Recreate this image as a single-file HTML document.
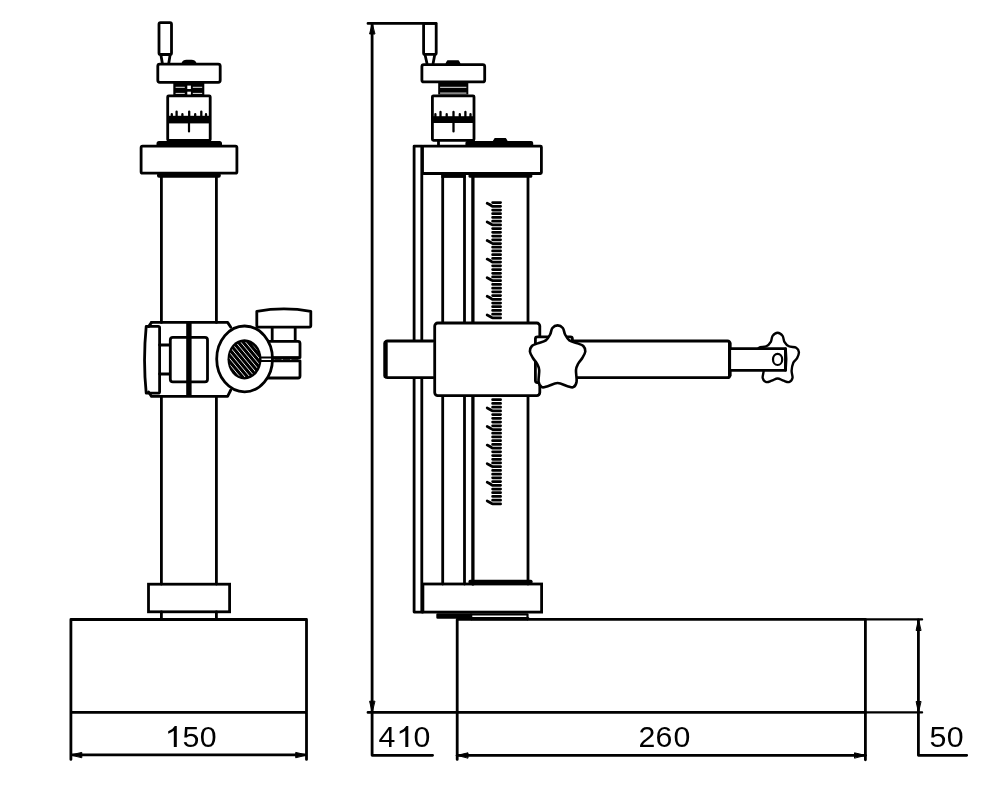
<!DOCTYPE html>
<html><head><meta charset="utf-8">
<style>
html,body{margin:0;padding:0;background:#fff;width:1002px;height:794px;overflow:hidden}
svg{display:block;will-change:transform}
text{font-family:"Liberation Sans",sans-serif;font-size:30.3px;fill:#000}
</style></head><body>
<svg width="1002" height="794" viewBox="0 0 1002 794">
<g fill="none" stroke="#000" stroke-width="2.8" stroke-linejoin="round" stroke-linecap="round">

<!-- ============ LEFT VIEW ============ -->
<!-- handle -->
<rect x="159" y="22.7" width="12.5" height="31.8" rx="1.5"/>
<path d="M161 55.5 L162.3 63 M170 55.5 L168.8 63"/>
<!-- crank arm -->
<path d="M182.5 63.3 Q183.5 60.8 186.5 60.8 H191.5 Q194.5 60.8 195.5 63.3 Z" stroke-width="2" fill="#000"/>
<rect x="157.8" y="64.1" width="62.4" height="18.2" rx="2"/>
<!-- knurled neck -->
<rect x="173.3" y="83" width="31" height="12" fill="#000" stroke="none"/>
<path d="M176 87.3 H184.4 M193.2 87.3 H201.8 M176 93.4 H184.4 M193.2 93.4 H201.8" stroke="#fff" stroke-width="0.9"/>
<rect x="187.3" y="85.6" width="3.6" height="3.4" fill="#fff" stroke="none"/>
<rect x="187.3" y="91.7" width="3.6" height="3.4" fill="#fff" stroke="none"/>
<!-- drum -->
<rect x="167.7" y="95.8" width="42.5" height="44.7" rx="1"/>
<rect x="167" y="115.8" width="44" height="7.6" fill="#000" stroke="none"/>
<path d="M171.8 117 V114.2 M176.6 117 V111.6 M182.4 117 V114.2 M189.2 117 V111.6 M195.2 117 V114.2 M201.3 117 V111.6 M206 117 V114.2" stroke-width="2.3"/>
<path d="M189 123 V131.4" stroke-width="2.2"/>
<!-- plate on top of collar -->
<rect x="156.5" y="141" width="65.5" height="5.8" rx="2.5" fill="#000" stroke="none"/>
<!-- collar -->
<rect x="141.1" y="146.2" width="95.8" height="27" rx="1.5"/>
<rect x="157" y="173" width="63.8" height="4.8" rx="2" fill="#000" stroke="none"/>
<!-- column -->
<path d="M161.4 177 V322.4 M216.4 177 V322.4 M161.4 396.4 V584 M216.4 396.4 V584 M161.4 612 V619 M216.4 612 V619"/>

<!-- clamp body -->
<path d="M151.5 322.4 H227.6 L230.8 327.2 M230.8 390 L227.6 396.4 H151.5 L148.6 392"/>
<path d="M148.6 326.6 L151.5 322.4"/>
<!-- left cap -->
<path d="M146.2 326.3 H158.2 Q159.6 326.3 159.6 327.7 V391.8 Q159.6 393.2 158.2 393.2 H146.2 Q142.9 360 146.2 326.3 Z"/>
<!-- stub -->
<path d="M159.6 345 H169.6 M159.6 374 H169.6"/>
<!-- inner rect -->
<rect x="170.3" y="337.4" width="37.2" height="44.4" rx="2.6"/>
<!-- split -->
<rect x="186.2" y="322.4" width="5.4" height="74" fill="#000" stroke="none"/>
<!-- knob cap -->
<path d="M256.8 311.3 Q284 306.5 310.8 311.3 V325.6 Q310.8 327.2 309.2 327.2 H258.4 Q256.8 327.2 256.8 325.6 Z"/>
<!-- neck -->
<path d="M272.2 327.6 V340.6 M295.2 327.6 V340.6"/>
<!-- clamp blocks -->
<path d="M262 341.4 H298 Q300 341.4 300 343.4 V357.6 H262 M262 360.8 H300 V376 Q300 378 298 378 H262"/>
<path d="M258 359.2 H300" stroke-width="1.2" stroke-dasharray="6 2.5"/>
<!-- ring -->
<ellipse cx="244.6" cy="358.9" rx="27.9" ry="32.9" fill="#fff"/>
<!-- hatched disc -->
<ellipse cx="244.5" cy="359.3" rx="17" ry="20.1" fill="#000" stroke="none"/>
<clipPath id="disc"><ellipse cx="244.3" cy="359.5" rx="14.8" ry="17.6"/></clipPath>
<g clip-path="url(#disc)" stroke="#fff" stroke-width="0.9" stroke-linecap="butt">
<path d="M243.61 321.86 L282.02 367.95 M240.69 324.29 L279.10 370.38 M237.77 326.72 L276.18 372.82 M234.85 329.16 L273.26 375.25 M231.93 331.59 L270.34 377.68 M229.01 334.02 L267.42 380.11 M226.09 336.45 L264.51 382.55 M223.18 338.89 L261.59 384.98 M220.26 341.32 L258.67 387.41 M217.34 343.75 L255.75 389.84 M214.42 346.18 L252.83 392.28 M211.50 348.62 L249.91 394.71 M208.58 351.05 L246.99 397.14"/></g>
<!-- slit lines -->
<path d="M261 357.4 H300 M261 361 H300" stroke-width="2"/>

<!-- bottom collar -->
<rect x="148.5" y="584.2" width="81.1" height="27.6" stroke-linejoin="miter"/>
<!-- base -->
<path d="M70.9 619.5 H306.5 V759.4 M70.9 759.4 V619.5 M70.9 712.4 H306.5"/>
<!-- dim 150 -->
<path d="M72 754.9 H305.5"/>
<path d="M71 754.9 L81.8 752.4 L81.8 757.4 Z M306.5 754.9 L295.7 752.4 L295.7 757.4 Z" fill="#000" stroke-width="1"/>

<!-- ============ RIGHT VIEW ============ -->
<!-- 410 dimension -->
<path d="M368 23.4 H436.2 M372.1 23.4 V755.3 H432.6 M368 712.4 H865.4"/>
<path d="M372.1 23.6 L369.6 34 L374.6 34 Z M372.1 712 L369.6 701.2 L374.6 701.2 Z" fill="#000" stroke-width="1"/>
<!-- handle -->
<rect x="423.6" y="23.4" width="12.6" height="31" rx="1.5"/>
<path d="M425.2 55.5 L427 63.5 M434.6 55.5 L433.1 63.5"/>
<!-- crank arm -->
<path d="M446.2 63.6 L447.6 61 H458.4 L459.8 63.6 Z" fill="#000" stroke-width="1.4"/>
<rect x="421.9" y="64.6" width="62.8" height="17.3" rx="2"/>
<!-- neck -->
<rect x="438.2" y="82" width="30.1" height="12.6" fill="#000" stroke="none"/>
<path d="M440.5 87.3 H466 M440.5 93.1 H466" stroke="#fff" stroke-width="0.9"/>
<!-- drum -->
<rect x="432.4" y="95.8" width="41.6" height="44.5" rx="1"/>
<rect x="431.5" y="116.2" width="43.5" height="6.8" fill="#000" stroke="none"/>
<path d="M435.4 117 V114.2 M440.5 117 V112 M446.7 117 V114.2 M453.5 117 V112 M459.8 117 V114.2 M465.4 117 V112 M470.5 117 V114.2" stroke-width="2.3"/>
<path d="M453.5 123 V131.4" stroke-width="2.3"/>
<path d="M438.5 141.5 V145.5"/>
<!-- dark bar top of plate -->
<rect x="465.4" y="140.9" width="67.8" height="5.6" rx="2" fill="#000" stroke="none"/>
<path d="M493.5 141 L495 138.6 H505.5 L507 141 Z" fill="#000" stroke-width="1.2"/>
<!-- back plate -->
<path d="M422.5 146.1 H414.1 V612.1 H422.9 M421.8 146.1 V612.1"/>
<!-- top plate -->
<rect x="422.5" y="146.1" width="118.9" height="27.4" rx="1"/>
<rect x="468.5" y="173.5" width="63.8" height="4.3" rx="1.5" fill="#000" stroke="none"/>
<rect x="441.3" y="173.5" width="24.4" height="4.4" fill="#000" stroke="none"/>
<!-- columns -->
<path d="M442.7 174 V322.5 M464.5 174 V322.5 M528 174 V322.5 M442.7 396.5 V584 M464.5 396.5 V584 M528 396.5 V584"/>
<path d="M472.9 174 V322.5 M472.9 396.5 V584" stroke-width="3.3"/>
<!-- upper scale -->
<path d="M492.6 202.58 H500.6 M492.6 206.30 H500.6 M487.2 203.30 Q490.2 204.70 492.4 206.30 M492.6 210.02 H500.6 M492.6 213.74 H500.6 M492.6 217.46 H500.6 M492.6 221.18 H500.6 M492.6 224.90 H500.6 M487.2 221.90 Q490.2 223.30 492.4 224.90 M492.6 228.62 H500.6 M492.6 232.34 H500.6 M492.6 236.06 H500.6 M492.6 239.78 H500.6 M492.6 243.50 H500.6 M487.2 240.50 Q490.2 241.90 492.4 243.50 M492.6 247.22 H500.6 M492.6 250.94 H500.6 M492.6 254.66 H500.6 M492.6 258.38 H500.6 M492.6 262.10 H500.6 M487.2 259.10 Q490.2 260.50 492.4 262.10 M492.6 265.82 H500.6 M492.6 269.54 H500.6 M492.6 273.26 H500.6 M492.6 276.98 H500.6 M492.6 280.70 H500.6 M487.2 277.70 Q490.2 279.10 492.4 280.70 M492.6 284.42 H500.6 M492.6 288.14 H500.6 M492.6 291.86 H500.6 M492.6 295.58 H500.6 M492.6 299.30 H500.6 M487.2 296.30 Q490.2 297.70 492.4 299.30 M492.6 303.02 H500.6 M492.6 306.74 H500.6 M492.6 310.46 H500.6 M492.6 314.18 H500.6 M492.6 317.90 H500.6 M487.2 314.90 Q490.2 316.30 492.4 317.90" stroke-width="2.75"/>
<path d="M492.6 399.74 H500.6 M492.6 403.46 H500.6 M492.6 407.18 H500.6 M492.6 410.90 H500.6 M487.2 407.90 Q490.2 409.30 492.4 410.90 M492.6 414.62 H500.6 M492.6 418.34 H500.6 M492.6 422.06 H500.6 M492.6 425.78 H500.6 M492.6 429.50 H500.6 M487.2 426.50 Q490.2 427.90 492.4 429.50 M492.6 433.22 H500.6 M492.6 436.94 H500.6 M492.6 440.66 H500.6 M492.6 444.38 H500.6 M492.6 448.10 H500.6 M487.2 445.10 Q490.2 446.50 492.4 448.10 M492.6 451.82 H500.6 M492.6 455.54 H500.6 M492.6 459.26 H500.6 M492.6 462.98 H500.6 M492.6 466.70 H500.6 M487.2 463.70 Q490.2 465.10 492.4 466.70 M492.6 470.42 H500.6 M492.6 474.14 H500.6 M492.6 477.86 H500.6 M492.6 481.58 H500.6 M492.6 485.30 H500.6 M487.2 482.30 Q490.2 483.70 492.4 485.30 M492.6 489.02 H500.6 M492.6 492.74 H500.6 M492.6 496.46 H500.6 M492.6 500.18 H500.6 M492.6 503.90 H500.6 M487.2 500.90 Q490.2 502.30 492.4 503.90" stroke-width="2.75"/>

<rect x="468.5" y="579.8" width="64" height="4.5" rx="1.5" fill="#000" stroke="none"/>
<!-- bottom collar -->
<rect x="422.9" y="584" width="118.7" height="28.1" stroke-linejoin="miter"/>
<!-- feet -->
<rect x="437.6" y="614.6" width="33" height="2.8" stroke-width="2.6"/>
<path d="M471.2 614.3 H527.5 V619.3 M471.2 614.3 V619.3" stroke-width="2.2"/>
<path d="M471.5 618.6 H528" stroke-width="3.2"/>
<!-- base right -->
<path d="M457.2 619.4 V759.4 M457.2 619.4 H865.4 V759.8"/>
<path d="M865.4 619.4 H922.1 M865.4 712.4 H922.1" stroke-width="2.2"/>
<!-- 260 dim -->
<path d="M457.2 755.3 H865.4"/>
<path d="M457.5 755.3 L468 752.8 L468 757.8 Z M865 755.3 L854.5 752.8 L854.5 757.8 Z" fill="#000" stroke-width="1"/>
<!-- 50 dim -->
<path d="M918.4 620 V755.3 H966.7"/>
<path d="M918.4 619.8 L916.1 630.5 L920.7 630.5 Z M918.4 712 L916.1 701.5 L920.7 701.5 Z" fill="#000" stroke-width="1"/>

<!-- left arm stub -->
<path d="M433 341 H387.5 Q385.3 341 385.3 343.2 V375.5 Q385.3 377.7 387.5 377.7 H433" fill="#fff"/>
<path d="M385.5 343 V376" stroke-width="4.4"/>
<!-- slider -->
<rect x="434.7" y="323" width="105.1" height="72.6" rx="3" fill="#fff"/>
<!-- arm right -->
<path d="M540 341 H727.5 Q729.7 341 729.7 343.2 V375.4 Q729.7 377.6 727.5 377.6 H540"/>
<path d="M729.8 343 V375.6" stroke-width="3.6"/>
<!-- rod + small star -->
<path d="M777.60 332.70 C779.27 332.70 781.47 334.38 782.60 335.90 C783.73 337.42 783.35 340.07 784.40 341.80 C785.45 343.53 786.93 345.32 788.90 346.30 C790.87 347.28 794.53 346.72 796.20 347.70 C797.87 348.68 798.75 350.47 798.90 352.20 C799.05 353.93 798.02 356.37 797.10 358.10 C796.18 359.83 794.32 360.48 793.40 362.60 C792.48 364.72 791.75 368.23 791.60 370.80 C791.45 373.37 792.95 376.12 792.50 378.00 C792.05 379.88 790.40 381.65 788.90 382.10 C787.40 382.55 785.38 381.30 783.50 380.70 C781.62 380.10 779.57 378.50 777.60 378.50 C775.63 378.50 773.58 380.10 771.70 380.70 C769.82 381.30 767.80 382.55 766.30 382.10 C764.80 381.65 763.15 379.88 762.70 378.00 C762.25 376.12 763.75 373.37 763.60 370.80 C763.45 368.23 762.72 364.72 761.80 362.60 C760.88 360.48 759.02 359.83 758.10 358.10 C757.18 356.37 756.15 353.93 756.30 352.20 C756.45 350.47 757.33 348.68 759.00 347.70 C760.67 346.72 764.33 347.28 766.30 346.30 C768.27 345.32 769.75 343.53 770.80 341.80 C771.85 340.07 771.47 337.42 772.60 335.90 C773.73 334.38 775.93 332.70 777.60 332.70 Z" fill="#fff" stroke-width="2.4"/>
<rect x="729.7" y="348.7" width="55.8" height="21.7" fill="#fff"/>
<path d="M785.4 349 Q786.6 359.5 785.4 370" stroke-width="3"/>
<ellipse cx="777.6" cy="359.4" rx="4.6" ry="5.6" stroke-width="2.2"/>
<!-- big star -->
<rect x="535.4" y="336.8" width="37" height="45.8" rx="2" fill="#fff"/>
<path d="M557.60 325.40 C559.33 325.40 561.55 326.48 562.80 328.00 C564.05 329.52 564.00 332.43 565.10 334.50 C566.20 336.57 567.33 338.92 569.40 340.40 C571.47 341.88 575.18 342.47 577.50 343.40 C579.82 344.33 582.00 344.65 583.30 346.00 C584.60 347.35 585.47 349.50 585.30 351.50 C585.13 353.50 583.47 356.00 582.30 358.00 C581.13 360.00 579.35 361.50 578.30 363.50 C577.25 365.50 576.28 366.95 576.00 370.00 C575.72 373.05 577.05 378.93 576.60 381.80 C576.15 384.67 574.82 386.47 573.30 387.20 C571.78 387.93 570.12 386.90 567.50 386.20 C564.88 385.50 560.90 383.00 557.60 383.00 C554.30 383.00 550.32 385.50 547.70 386.20 C545.08 386.90 543.42 387.93 541.90 387.20 C540.38 386.47 539.05 384.67 538.60 381.80 C538.15 378.93 539.48 373.05 539.20 370.00 C538.92 366.95 537.95 365.50 536.90 363.50 C535.85 361.50 534.07 360.00 532.90 358.00 C531.73 356.00 530.07 353.50 529.90 351.50 C529.73 349.50 530.60 347.35 531.90 346.00 C533.20 344.65 535.38 344.33 537.70 343.40 C540.02 342.47 543.73 341.88 545.80 340.40 C547.87 338.92 549.00 336.57 550.10 334.50 C551.20 332.43 551.15 329.52 552.40 328.00 C553.65 326.48 555.87 325.40 557.60 325.40 Z" fill="#fff" stroke-width="2.6"/>
<!-- texts -->
</g>
<path d="M176.80 747.0 V725.9 H174.80 Q172.80 729.4 168.20 731.3 V733.7 Q171.80 732.5 173.80 730.8 V747.0 Z" fill="#000" stroke="none"/>
<text transform="translate(182.59 747.0)">5</text>
<text transform="translate(199.72 747.0)">0</text>
<text transform="translate(378.40 747.0)">4</text>
<path d="M408.30 747.0 V725.9 H406.30 Q404.30 729.4 399.70 731.3 V733.7 Q403.30 732.5 405.30 730.8 V747.0 Z" fill="#000" stroke="none"/>
<text transform="translate(413.52 747.0)">0</text>
<text transform="translate(638.49 747.0)">2</text>
<text transform="translate(655.55 747.0)">6</text>
<text transform="translate(673.52 747.0)">0</text>
<text transform="translate(929.49 747.0)">5</text>
<text transform="translate(946.72 747.0)">0</text>
</svg>
</body></html>
